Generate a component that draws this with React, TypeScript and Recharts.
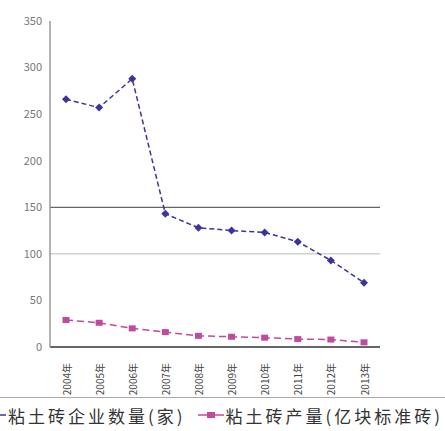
import { LineChart, Line, XAxis, YAxis, ReferenceLine } from "recharts";

const years = ["2004年", "2005年", "2006年", "2007年", "2008年", "2009年", "2010年", "2011年", "2012年", "2013年"];
const enterprises = [266, 257, 288, 143, 128, 125, 123, 113, 93, 69];
const output = [29, 26, 20, 16, 12, 11, 10, 8.5, 8, 5];
const yTicks = [0, 50, 100, 150, 200, 250, 300, 350];

const BLUE = "#3b33a0";
const PINK = "#c24a9e";

const data = years.map((year, i) => ({ year, enterprises: enterprises[i], output: output[i] }));

const Diamond = (props: any) => {
    const { cx, cy } = props;
    if (cx == null || cy == null) return null;
    return <polygon points={`${cx},${cy - 4} ${cx + 4},${cy} ${cx},${cy + 4} ${cx - 4},${cy}`} fill={BLUE} />;
};

const Square = (props: any) => {
    const { cx, cy } = props;
    if (cx == null || cy == null) return null;
    return <rect x={cx - 3.5} y={cy - 3} width={7} height={6} fill={PINK} />;
};

const YearTick = (props: any) => {
    const { x, y, payload } = props;
    return (
        <text
            x={x}
            y={y + 8}
            transform={`rotate(-90 ${x} ${y + 8})`}
            textAnchor="end"
            dominantBaseline="central"
            fontSize={10}
            fill="#444"
        >
            {payload.value}
        </text>
    );
};

export default function App() {
    return (
        <div style={{ position: "absolute", left: 0, top: 0, width: 445, height: 431, background: "#fff", overflow: "hidden", fontFamily: "'Noto Sans CJK SC', sans-serif" }}>
            <LineChart width={445} height={431} data={data} margin={{ top: 21, right: 65, bottom: 34, left: 0 }}>
                <XAxis
                    dataKey="year"
                    height={50}
                    padding={{ left: 16, right: 16 }}
                    axisLine={{ stroke: "#333", strokeWidth: 1.5 }}
                    tickLine={false}
                    tick={<YearTick />}
                    interval={0}
                />
                <XAxis xAxisId="top" dataKey="year" orientation="top" height={0} axisLine={{ stroke: "#999" }} tick={false} tickLine={false} />
                <YAxis
                    domain={[0, 350]}
                    ticks={yTicks}
                    width={50}
                    axisLine={{ stroke: "#999", strokeWidth: 1.5 }}
                    tickLine={false}
                    tick={{ fontSize: 11, fill: "#777" }}
                />
                <YAxis yAxisId="right" orientation="right" width={0} axisLine={{ stroke: "#999" }} tick={false} tickLine={false} />
                <ReferenceLine y={150} stroke="#666" strokeWidth={1.2} />
                <ReferenceLine y={100} stroke="#bbb" />
                <Line
                    dataKey="enterprises"
                    stroke={BLUE}
                    strokeWidth={1.5}
                    strokeDasharray="5 3"
                    dot={<Diamond />}
                    isAnimationActive={false}
                />
                <Line
                    dataKey="output"
                    stroke={PINK}
                    strokeWidth={1.5}
                    strokeDasharray="7 4"
                    dot={<Square />}
                    isAnimationActive={false}
                />
            </LineChart>
            <div style={{ position: "absolute", left: -24, top: 397, width: 500, height: 34, borderTop: "1px solid #aaa", display: "flex", alignItems: "center", fontSize: 17, color: "#333", letterSpacing: 3, whiteSpace: "nowrap" }}>
                <svg width={30} height={12} style={{ marginRight: 2 }}>
                    <line x1={0} y1={6} x2={30} y2={6} stroke={BLUE} strokeWidth={1.5} />
                    <polygon points="15,2 19,6 15,10 11,6" fill={BLUE} />
                </svg>
                <span>粘土砖企业数量(家)</span>
                <svg width={26} height={12} style={{ marginLeft: 12, marginRight: 2 }}>
                    <line x1={0} y1={6} x2={26} y2={6} stroke={PINK} strokeWidth={1.5} />
                    <rect x={9} y={3} width={8} height={6} fill={PINK} />
                </svg>
                <span>粘土砖产量(亿块标准砖)</span>
            </div>
        </div>
    );
}
